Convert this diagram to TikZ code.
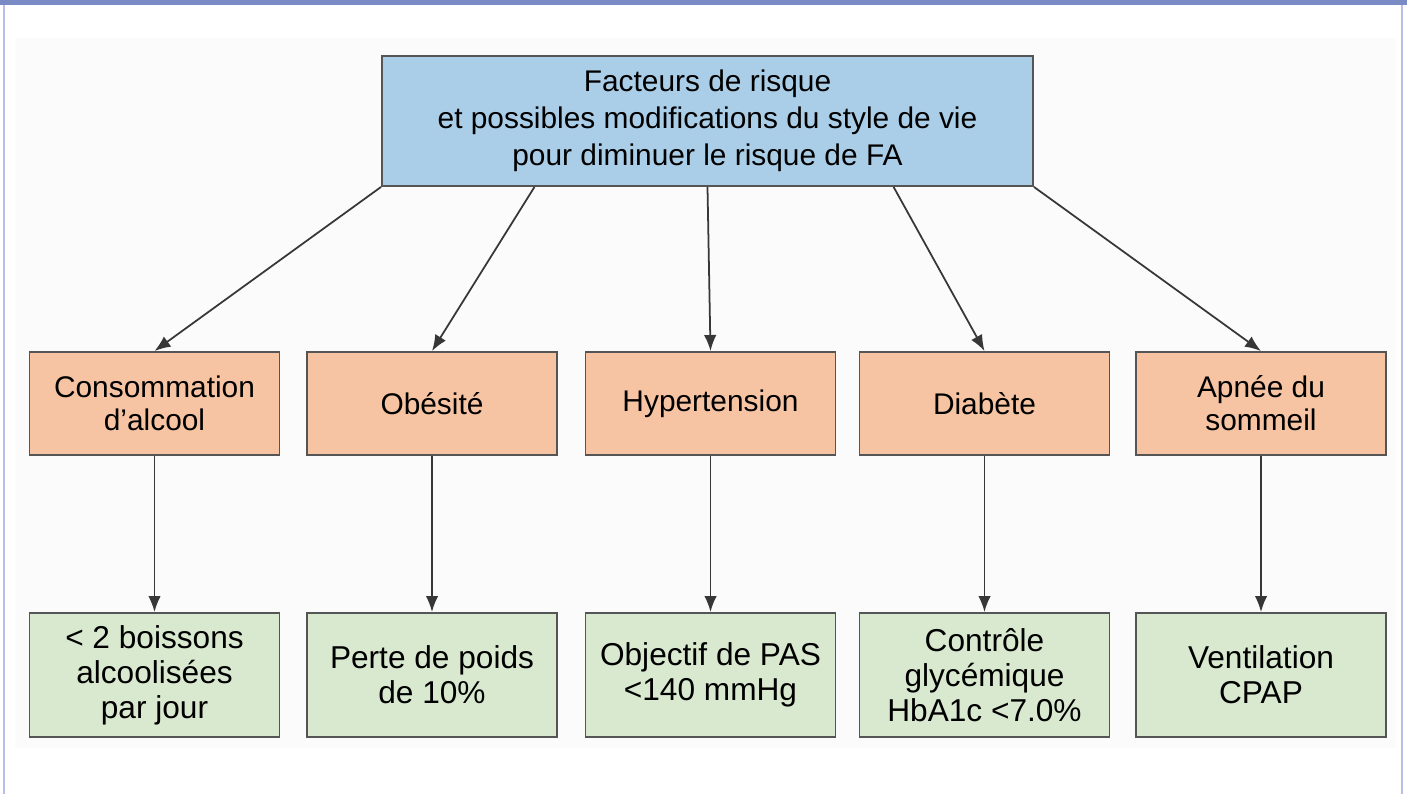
\documentclass[tikz,border=0pt]{standalone}
\usepackage{fontspec}
\setmainfont{Liberation Sans}
\usetikzlibrary{arrows.meta,calc,positioning}

\definecolor{barblue}{RGB}{122,138,196}
\definecolor{sideblue}{RGB}{184,192,230}
\definecolor{panelgray}{RGB}{251,251,251}
\definecolor{titleblue}{RGB}{170,205,232}
\definecolor{factorpeach}{RGB}{246,196,162}
\definecolor{goalgreen}{RGB}{217,233,207}
\definecolor{edgegray}{RGB}{85,85,85}
\definecolor{arrowgray}{RGB}{55,55,55}

\begin{document}
\begin{tikzpicture}
  [
  >={Latex[length=3.2mm,width=2.5mm]}, line width=1pt,
  titlebox/.style={rectangle, minimum height=26mm, minimum width=130.2mm, inner sep=0pt, draw=edgegray, line width=1.1pt, fill=titleblue, align=center, font=\fontsize{17}{21}\selectfont},
  factor/.style={rectangle, minimum height=20.6mm, minimum width=50mm, inner sep=0pt, draw=edgegray, line width=1.1pt, fill=factorpeach, align=center, font=\fontsize{17}{18.8}\selectfont},
  goal/.style={rectangle, minimum height=24.8mm, minimum width=50mm, inner sep=0pt, draw=edgegray, line width=1.1pt, fill=goalgreen, align=center, font=\fontsize{18}{19.9}\selectfont},
  link/.style={->, draw=arrowgray}
  ]

% frame of the page
\useasboundingbox (0,0) rectangle (28.14,15.88);
\fill[panelgray] (0.3,0.92) rectangle (27.92,15.12);
\fill[barblue] (0,15.78) rectangle (28.14,15.88);
\draw[sideblue, line width=0.6pt] (0.08,15.78) -- (0.08,0);
\draw[sideblue, line width=0.6pt] (28.04,15.78) -- (28.04,0);

\node[titlebox] (title) at (14.15,13.46) {Facteurs de risque\\et possibles modifications du style de vie\\pour diminuer le risque de FA};

% risk factors and their targets
\foreach \x/\n/\f/\g in {
  3.09/1/{Consommation\\d'alcool}/{< 2 boissons\\alcoolisées\\par jour},
  8.64/2/{Obésité}/{Perte de poids\\de 10\%},
  14.21/3/{Hypertension}/{Objectif de PAS\\<140 mmHg},
  19.69/4/{Diabète}/{Contrôle\\glycémique\\HbA1c <7.0\%},
  25.22/5/{Apnée du\\sommeil}/{Ventilation\\CPAP}} {
  \node[factor] (f\n) at (\x,7.81) {\f};
  \node[goal] (g\n) at (\x,2.38) {\g};
  \draw[link] (f\n.south) -- (g\n.north);
}

\draw[link] (title.south west) -- (f1.north);
\draw[link] ($(title.south west)!0.235!(title.south east)$) -- (f2.north);
\draw[link] (title.south) -- (f3.north);
\draw[link] ($(title.south west)!0.785!(title.south east)$) -- (f4.north);
\draw[link] (title.south east) -- (f5.north);

\end{tikzpicture}
\end{document}
